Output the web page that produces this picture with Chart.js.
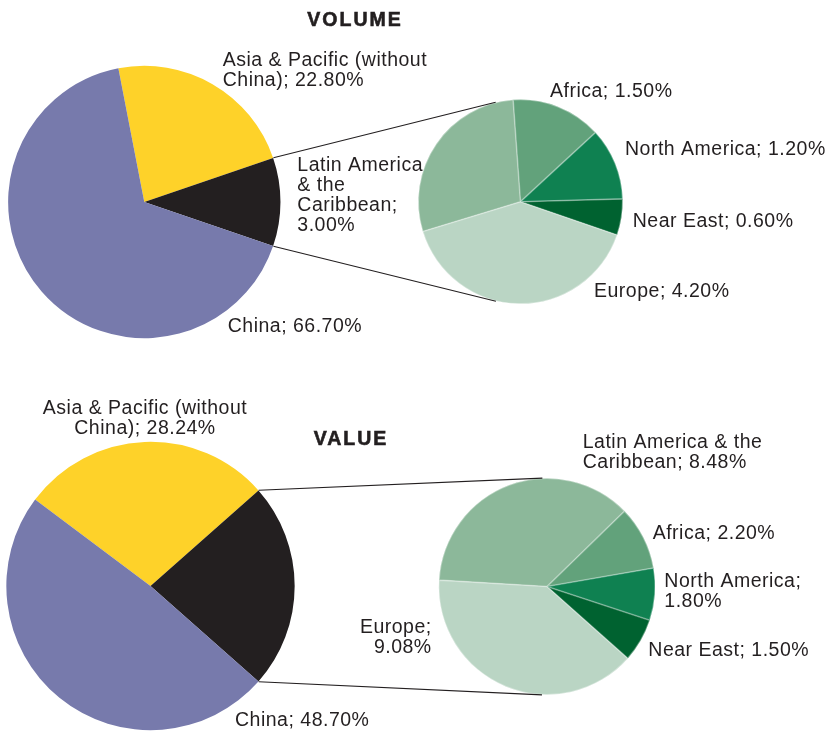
<!DOCTYPE html>
<html><head><meta charset="utf-8">
<script src="https://cdn.jsdelivr.net/npm/chart.js@4.4.1/dist/chart.umd.min.js"></script>
<style>
html,body{margin:0;padding:0;background:#fff;}
#wrap{position:relative;width:833px;height:731px;overflow:hidden;background:#fff;}
#wrap canvas{position:absolute;left:0;top:0;}
</style></head><body>
<div id="wrap">
<canvas id="volMain" width="833" height="731"></canvas>
<canvas id="volOther" width="833" height="731"></canvas>
<canvas id="valMain" width="833" height="731"></canvas>
<canvas id="valOther" width="833" height="731"></canvas>
</div>
<script>
// ---- data ----
const mainCategories = ['China', 'Asia & Pacific (without China)'];
const otherCategories = ['Latin America & the Caribbean', 'Africa', 'North America', 'Near East', 'Europe'];
const volumeMain = [66.70, 22.80];
const volumeOther = [3.00, 1.50, 1.20, 0.60, 4.20];
const valueMain = [48.70, 28.24];
const valueOther = [8.48, 2.20, 1.80, 1.50, 9.08];
const titles = ['VOLUME', 'VALUE'];

// ---- styles ----
const W = 833, H = 731;
const TEXT = '#231f20';
const FONT = '19.5px "Liberation Sans", Arial, Helvetica, sans-serif';
const mainColors = ['#fed229', '#231f20', '#777aac']; // Asia, Other, China
const otherColors = ['#8cb89a', '#62a27b', '#0f8151', '#006230', '#bad5c4'];

function wrapText(ctx, text, maxWidth) {
  const words = text.split(' ');
  const lines = [];
  let cur = '';
  for (const w of words) {
    const test = cur ? cur + ' ' + w : w;
    if (cur && ctx.measureText(test).width > maxWidth) { lines.push(cur); cur = w; }
    else cur = test;
  }
  if (cur) lines.push(cur);
  return lines;
}

const labelPlugin = {
  id: 'sliceLabels',
  afterDraw(chart, args, opts) {
    const ctx = chart.ctx;
    ctx.save();
    ctx.fillStyle = TEXT;
    ctx.strokeStyle = TEXT;
    ctx.textBaseline = 'alphabetic';
    if (opts.title) {
      ctx.font = 'bold 19.5px "Liberation Sans", Arial, Helvetica, sans-serif';
      try { ctx.letterSpacing = '2px'; } catch (e) {}
      ctx.textAlign = 'center';
      ctx.lineWidth = 0.6;
      ctx.fillText(opts.title.text, opts.title.x, opts.title.y);
      ctx.strokeText(opts.title.text, opts.title.x, opts.title.y);
    }
    ctx.font = FONT;
    try { ctx.letterSpacing = '0.5px'; } catch (e) {}
    for (const it of (opts.items || [])) {
      const v = chart.data.datasets[0].data[it.index];
      const text = chart.data.labels[it.index] + '; ' + v.toFixed(2) + '%';
      const lines = wrapText(ctx, text, it.maxWidth || 9999);
      ctx.textAlign = it.align || 'left';
      lines.forEach((ln, k) => ctx.fillText(ln, it.x, it.y + k * 20));
    }
    ctx.restore();
  }
};

const connectorPlugin = {
  id: 'connectors',
  afterDraw(chart, args, opts) {
    if (!opts.from) return;
    const main = Chart.getChart(opts.from);
    if (!main) return;
    const arc = main.getDatasetMeta(0).data[opts.index];
    const sec = chart.getDatasetMeta(0).data[0];
    const cx = sec.x, cy = sec.y, r = sec.outerRadius;
    const ctx = chart.ctx;
    ctx.save();
    ctx.strokeStyle = TEXT;
    ctx.lineWidth = 1.1;
    [[arc.startAngle, 1], [arc.endAngle, -1]].forEach(([ang, sign]) => {
      const px = arc.x + arc.outerRadius * Math.cos(ang);
      const py = arc.y + arc.outerRadius * Math.sin(ang);
      const dx = px - cx, dy = py - cy;
      const d = Math.hypot(dx, dy);
      const phi = Math.atan2(dy, dx) + sign * Math.acos(r / d);
      ctx.beginPath();
      ctx.moveTo(px, py);
      ctx.lineTo(cx + r * Math.cos(phi), cy + r * Math.sin(phi));
      ctx.stroke();
    });
    ctx.restore();
  }
};

function pie(id, labels, data, colors, g, pluginOpts) {
  return new Chart(document.getElementById(id), {
    type: 'pie',
    data: { labels, datasets: [{ data, backgroundColor: colors,
      borderWidth: g.border, borderColor: 'rgba(255,255,255,0.35)', borderAlign: 'inner' }] },
    options: {
      responsive: false, maintainAspectRatio: false, animation: false, devicePixelRatio: 1, events: [],
      rotation: g.rotation, radius: g.r,
      layout: { padding: { left: g.cx - g.r, top: g.cy - g.r, right: W - g.cx - g.r, bottom: H - g.cy - g.r } },
      plugins: { legend: { display: false }, tooltip: { enabled: false },
        sliceLabels: pluginOpts.labels, connectors: pluginOpts.connectors || {} }
    },
    plugins: [labelPlugin, connectorPlugin]
  });
}

function mainSeries(main, other) {
  const otherSum = other.reduce((a, b) => a + b, 0);
  return {
    labels: [mainCategories[1], 'Other', mainCategories[0]],
    data: [main[1], otherSum, main[0]],
    // centre the combined slice on the right-hand side (3 o'clock)
    rotation: 90 - (main[1] + otherSum / 2) * 3.6
  };
}

// ---- VOLUME ----
const vm = mainSeries(volumeMain, volumeOther);
pie('volMain', vm.labels, vm.data, mainColors,
  { cx: 144.3, cy: 202, r: 136.5, rotation: vm.rotation, border: 0 },
  { labels: { title: { text: titles[0], x: 355, y: 26 },
      items: [ { index: 0, x: 222.7, y: 65.7, maxWidth: 215 },
               { index: 2, x: 227.7, y: 331.7 } ] } });
pie('volOther', otherCategories, volumeOther, otherColors,
  { cx: 520.5, cy: 201.7, r: 102.5, rotation: -107, border: 0.8 },
  { labels: { items: [
      { index: 0, x: 297.3, y: 170.7, maxWidth: 135 },
      { index: 1, x: 550, y: 96.7 },
      { index: 2, x: 625, y: 155 },
      { index: 3, x: 632.7, y: 227.3 },
      { index: 4, x: 594, y: 296.7 } ] },
    connectors: { from: 'volMain', index: 1 } });

// ---- VALUE ----
const am = mainSeries(valueMain, valueOther);
pie('valMain', am.labels, am.data, mainColors,
  { cx: 150.5, cy: 586, r: 144.5, rotation: am.rotation, border: 0 },
  { labels: { title: { text: titles[1], x: 351, y: 445 },
      items: [ { index: 0, x: 145, y: 414, align: 'center', maxWidth: 215 },
               { index: 2, x: 235, y: 726 } ] } });
pie('valOther', otherCategories, valueOther, otherColors,
  { cx: 547, cy: 586.5, r: 108.5, rotation: -86.6, border: 0.8 },
  { labels: { items: [
      { index: 0, x: 582.7, y: 448.3, maxWidth: 190 },
      { index: 1, x: 652.7, y: 539.3 },
      { index: 2, x: 664.3, y: 587.3, maxWidth: 150 },
      { index: 3, x: 648.3, y: 656 },
      { index: 4, x: 431.7, y: 633, align: 'right', maxWidth: 90 } ] },
    connectors: { from: 'valMain', index: 1 } });
</script>
</body></html>
